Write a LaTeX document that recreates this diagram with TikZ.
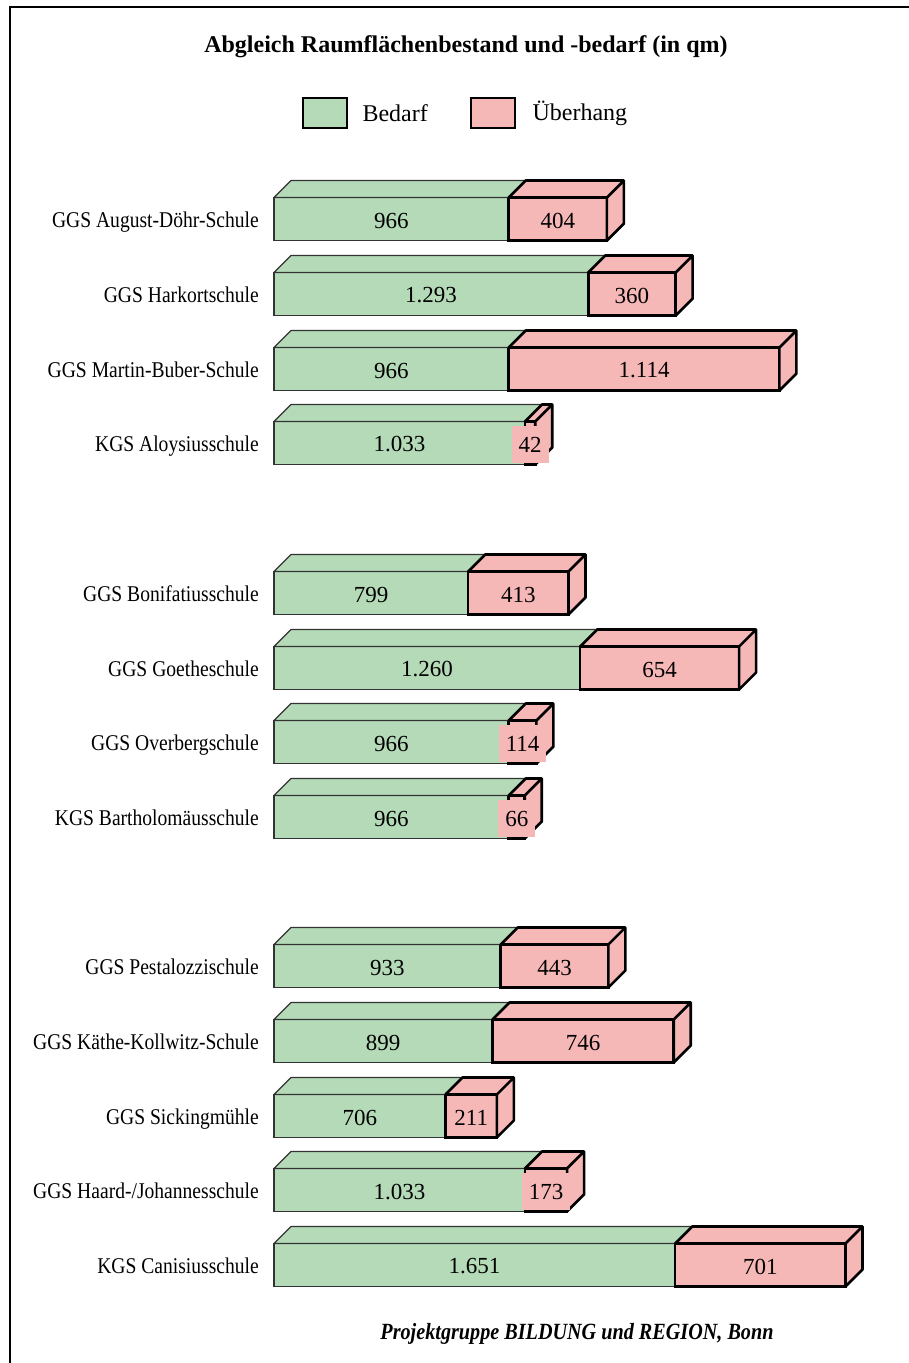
\documentclass[tikz,border=0pt]{standalone}
\usepackage{fontspec}
\setmainfont{Liberation Serif}
\newfontfamily\narrowfont{Liberation Serif}[FakeStretch=0.87]
\usetikzlibrary{positioning}
\definecolor{bedarfgreen}{RGB}{181,218,184}
\definecolor{ueberhangpink}{RGB}{246,183,183}

\begin{document}
\begin{tikzpicture}[x=1pt,y=-1pt]
  \tikzset{BedarfStyle/.style = {
    shape         = rectangle,
    draw          = black!80,
    fill          = bedarfgreen,
    line width    = 1.2pt,
    inner sep     = 0pt,
    outer sep     = 0pt,
    minimum height = 43pt,
    anchor        = west
    }
  }
  \tikzset{UeberhangStyle/.style = {
    shape         = rectangle,
    draw          = black,
    fill          = ueberhangpink,
    line width    = 2.6pt,
    inner sep     = 0pt,
    outer sep     = 0pt,
    minimum height = 43pt
    }
  }
  \tikzset{BedarfFaceStyle/.style = {
    draw          = black!80,
    fill          = bedarfgreen,
    line width    = 1.2pt,
    line join     = round
    }
  }
  \tikzset{UeberhangFaceStyle/.style = {
    draw          = black,
    fill          = ueberhangpink,
    line width    = 2.6pt,
    line join     = round
    }
  }
  \tikzset{ValueStyle/.style = {
    inner sep     = 0pt,
    yshift        = -1.5pt,
    font          = \fontsize{23}{27}\selectfont
    }
  }
  \tikzset{PinkValueStyle/.style = {
    fill          = ueberhangpink,
    inner xsep    = 7pt,
    inner ysep    = 0pt,
    minimum height = 37pt,
    yshift        = -1.5pt,
    font          = \fontsize{23}{27}\selectfont
    }
  }
  \tikzset{SchoolStyle/.style = {
    anchor        = base east,
    inner sep     = 0pt,
    font          = \narrowfont\fontsize{22.5}{26}\selectfont
    }
  }
  \tikzset{LegendBoxStyle/.style = {
    shape         = rectangle,
    draw          = black,
    line width    = 2.6pt,
    minimum width = 44pt,
    minimum height = 30pt
    }
  }

  \useasboundingbox (0,0) rectangle (909,1363);
  \draw[line width=2.4pt] (10,1363) -- (10,7) -- (909,7);

  % title and legend
  \node[font=\bfseries\fontsize{24}{28}\selectfont](T) at (466,47) {Abgleich Raumflächenbestand und -bedarf (in qm)};
  \node[LegendBoxStyle, fill=bedarfgreen](LB) at (325,113) {};
  \node[anchor=west, font=\fontsize{24}{28}\selectfont](LBT) at (359,113) {Bedarf};
  \node[LegendBoxStyle, fill=ueberhangpink](LU) at (493,113) {};
  \node[anchor=west, font=\fontsize{24}{28}\selectfont](LUT) at (529,113) {Überhang};

  % schools
  \node[SchoolStyle](S1) at (259,227.5) {GGS August-Döhr-Schule};
  \node[SchoolStyle](S2) at (259,302.5) {GGS Harkortschule};
  \node[SchoolStyle](S3) at (259,377.5) {GGS Martin-Buber-Schule};
  \node[SchoolStyle](S4) at (259,451.5) {KGS Aloysiusschule};
  \node[SchoolStyle](S5) at (259,601.5) {GGS Bonifatiusschule};
  \node[SchoolStyle](S6) at (259,676.5) {GGS Goetheschule};
  \node[SchoolStyle](S7) at (259,750.5) {GGS Overbergschule};
  \node[SchoolStyle](S8) at (259,825.5) {KGS Bartholomäusschule};
  \node[SchoolStyle](S9) at (259,974.5) {GGS Pestalozzischule};
  \node[SchoolStyle](S10) at (259,1049.5) {GGS Käthe-Kollwitz-Schule};
  \node[SchoolStyle](S11) at (259,1124.5) {GGS Sickingmühle};
  \node[SchoolStyle](S12) at (259,1198.5) {GGS Haard-/Johannesschule};
  \node[SchoolStyle](S13) at (259,1273.5) {KGS Canisiusschule};

  % bars, front faces
  \node[BedarfStyle, minimum width=966*0.243](G1) at (274,219) {};
  \node[UeberhangStyle, minimum width=404*0.243, right=0pt of G1](P1) {};
  \node[BedarfStyle, minimum width=1293*0.243](G2) at (274,294) {};
  \node[UeberhangStyle, minimum width=360*0.243, right=0pt of G2](P2) {};
  \node[BedarfStyle, minimum width=966*0.243](G3) at (274,369) {};
  \node[UeberhangStyle, minimum width=1114*0.243, right=0pt of G3](P3) {};
  \node[BedarfStyle, minimum width=1033*0.243](G4) at (274,443) {};
  \node[UeberhangStyle, minimum width=42*0.243, right=0pt of G4](P4) {};
  \node[BedarfStyle, minimum width=799*0.243](G5) at (274,593) {};
  \node[UeberhangStyle, minimum width=413*0.243, right=0pt of G5](P5) {};
  \node[BedarfStyle, minimum width=1260*0.243](G6) at (274,668) {};
  \node[UeberhangStyle, minimum width=654*0.243, right=0pt of G6](P6) {};
  \node[BedarfStyle, minimum width=966*0.243](G7) at (274,742) {};
  \node[UeberhangStyle, minimum width=114*0.243, right=0pt of G7](P7) {};
  \node[BedarfStyle, minimum width=966*0.243](G8) at (274,817) {};
  \node[UeberhangStyle, minimum width=66*0.243, right=0pt of G8](P8) {};
  \node[BedarfStyle, minimum width=933*0.243](G9) at (274,966) {};
  \node[UeberhangStyle, minimum width=443*0.243, right=0pt of G9](P9) {};
  \node[BedarfStyle, minimum width=899*0.243](G10) at (274,1041) {};
  \node[UeberhangStyle, minimum width=746*0.243, right=0pt of G10](P10) {};
  \node[BedarfStyle, minimum width=706*0.243](G11) at (274,1116) {};
  \node[UeberhangStyle, minimum width=211*0.243, right=0pt of G11](P11) {};
  \node[BedarfStyle, minimum width=1033*0.243](G12) at (274,1190) {};
  \node[UeberhangStyle, minimum width=173*0.243, right=0pt of G12](P12) {};
  \node[BedarfStyle, minimum width=1651*0.243](G13) at (274,1265) {};
  \node[UeberhangStyle, minimum width=701*0.243, right=0pt of G13](P13) {};

  % bars, top and side faces
  \draw[BedarfFaceStyle] (G1.north west) -- ++(17,-17) -- ([shift={(17,-17)}]G1.north east) -- (G1.north east) -- cycle;
  \draw[UeberhangFaceStyle] (P1.north west) -- ++(17,-17) -| ([shift={(17,-17)}]P1.south east) -- (P1.south east) -- (P1.north east) -- cycle (P1.north east) -- ++(17,-17);
  \draw[BedarfFaceStyle] (G2.north west) -- ++(17,-17) -- ([shift={(17,-17)}]G2.north east) -- (G2.north east) -- cycle;
  \draw[UeberhangFaceStyle] (P2.north west) -- ++(17,-17) -| ([shift={(17,-17)}]P2.south east) -- (P2.south east) -- (P2.north east) -- cycle (P2.north east) -- ++(17,-17);
  \draw[BedarfFaceStyle] (G3.north west) -- ++(17,-17) -- ([shift={(17,-17)}]G3.north east) -- (G3.north east) -- cycle;
  \draw[UeberhangFaceStyle] (P3.north west) -- ++(17,-17) -| ([shift={(17,-17)}]P3.south east) -- (P3.south east) -- (P3.north east) -- cycle (P3.north east) -- ++(17,-17);
  \draw[BedarfFaceStyle] (G4.north west) -- ++(17,-17) -- ([shift={(17,-17)}]G4.north east) -- (G4.north east) -- cycle;
  \draw[UeberhangFaceStyle] (P4.north west) -- ++(17,-17) -| ([shift={(17,-17)}]P4.south east) -- (P4.south east) -- (P4.north east) -- cycle (P4.north east) -- ++(17,-17);
  \draw[BedarfFaceStyle] (G5.north west) -- ++(17,-17) -- ([shift={(17,-17)}]G5.north east) -- (G5.north east) -- cycle;
  \draw[UeberhangFaceStyle] (P5.north west) -- ++(17,-17) -| ([shift={(17,-17)}]P5.south east) -- (P5.south east) -- (P5.north east) -- cycle (P5.north east) -- ++(17,-17);
  \draw[BedarfFaceStyle] (G6.north west) -- ++(17,-17) -- ([shift={(17,-17)}]G6.north east) -- (G6.north east) -- cycle;
  \draw[UeberhangFaceStyle] (P6.north west) -- ++(17,-17) -| ([shift={(17,-17)}]P6.south east) -- (P6.south east) -- (P6.north east) -- cycle (P6.north east) -- ++(17,-17);
  \draw[BedarfFaceStyle] (G7.north west) -- ++(17,-17) -- ([shift={(17,-17)}]G7.north east) -- (G7.north east) -- cycle;
  \draw[UeberhangFaceStyle] (P7.north west) -- ++(17,-17) -| ([shift={(17,-17)}]P7.south east) -- (P7.south east) -- (P7.north east) -- cycle (P7.north east) -- ++(17,-17);
  \draw[BedarfFaceStyle] (G8.north west) -- ++(17,-17) -- ([shift={(17,-17)}]G8.north east) -- (G8.north east) -- cycle;
  \draw[UeberhangFaceStyle] (P8.north west) -- ++(17,-17) -| ([shift={(17,-17)}]P8.south east) -- (P8.south east) -- (P8.north east) -- cycle (P8.north east) -- ++(17,-17);
  \draw[BedarfFaceStyle] (G9.north west) -- ++(17,-17) -- ([shift={(17,-17)}]G9.north east) -- (G9.north east) -- cycle;
  \draw[UeberhangFaceStyle] (P9.north west) -- ++(17,-17) -| ([shift={(17,-17)}]P9.south east) -- (P9.south east) -- (P9.north east) -- cycle (P9.north east) -- ++(17,-17);
  \draw[BedarfFaceStyle] (G10.north west) -- ++(17,-17) -- ([shift={(17,-17)}]G10.north east) -- (G10.north east) -- cycle;
  \draw[UeberhangFaceStyle] (P10.north west) -- ++(17,-17) -| ([shift={(17,-17)}]P10.south east) -- (P10.south east) -- (P10.north east) -- cycle (P10.north east) -- ++(17,-17);
  \draw[BedarfFaceStyle] (G11.north west) -- ++(17,-17) -- ([shift={(17,-17)}]G11.north east) -- (G11.north east) -- cycle;
  \draw[UeberhangFaceStyle] (P11.north west) -- ++(17,-17) -| ([shift={(17,-17)}]P11.south east) -- (P11.south east) -- (P11.north east) -- cycle (P11.north east) -- ++(17,-17);
  \draw[BedarfFaceStyle] (G12.north west) -- ++(17,-17) -- ([shift={(17,-17)}]G12.north east) -- (G12.north east) -- cycle;
  \draw[UeberhangFaceStyle] (P12.north west) -- ++(17,-17) -| ([shift={(17,-17)}]P12.south east) -- (P12.south east) -- (P12.north east) -- cycle (P12.north east) -- ++(17,-17);
  \draw[BedarfFaceStyle] (G13.north west) -- ++(17,-17) -- ([shift={(17,-17)}]G13.north east) -- (G13.north east) -- cycle;
  \draw[UeberhangFaceStyle] (P13.north west) -- ++(17,-17) -| ([shift={(17,-17)}]P13.south east) -- (P13.south east) -- (P13.north east) -- cycle (P13.north east) -- ++(17,-17);

  % values
  \node[ValueStyle](GV1) at (G1) {966};
  \node[PinkValueStyle](PV1) at (P1) {404};
  \node[ValueStyle](GV2) at (G2) {1.293};
  \node[PinkValueStyle](PV2) at (P2) {360};
  \node[ValueStyle](GV3) at (G3) {966};
  \node[PinkValueStyle](PV3) at (P3) {1.114};
  \node[ValueStyle](GV4) at (G4) {1.033};
  \node[PinkValueStyle](PV4) at (P4) {42};
  \node[ValueStyle](GV5) at (G5) {799};
  \node[PinkValueStyle](PV5) at (P5) {413};
  \node[ValueStyle](GV6) at (G6) {1.260};
  \node[PinkValueStyle](PV6) at (P6) {654};
  \node[ValueStyle](GV7) at (G7) {966};
  \node[PinkValueStyle](PV7) at (P7) {114};
  \node[ValueStyle](GV8) at (G8) {966};
  \node[PinkValueStyle](PV8) at (P8) {66};
  \node[ValueStyle](GV9) at (G9) {933};
  \node[PinkValueStyle](PV9) at (P9) {443};
  \node[ValueStyle](GV10) at (G10) {899};
  \node[PinkValueStyle](PV10) at (P10) {746};
  \node[ValueStyle](GV11) at (G11) {706};
  \node[PinkValueStyle](PV11) at (P11) {211};
  \node[ValueStyle](GV12) at (G12) {1.033};
  \node[PinkValueStyle](PV12) at (P12) {173};
  \node[ValueStyle](GV13) at (G13) {1.651};
  \node[PinkValueStyle](PV13) at (P13) {701};

  % source
  \node[font=\narrowfont\bfseries\itshape\fontsize{23.2}{27}\selectfont](Q) at (577,1334) {Projektgruppe BILDUNG und REGION, Bonn};

\end{tikzpicture}
\end{document}
